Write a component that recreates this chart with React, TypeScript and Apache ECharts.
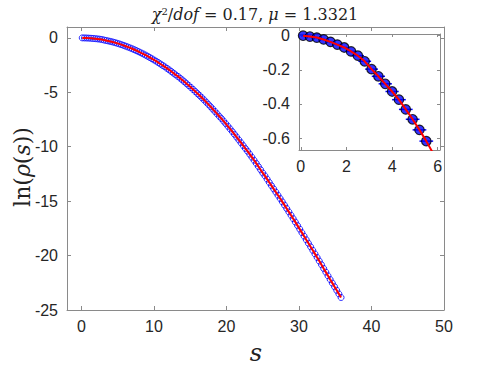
import React, { useEffect, useRef } from "react";
import * as echarts from "echarts";

// s values (distance) and ln(rho(s))
const S_VALUES = [
  0.1, 0.4, 0.7, 1.0, 1.3, 1.6, 1.9, 2.2, 2.5, 2.8,
  3.1, 3.4, 3.7, 4.0, 4.3, 4.6, 4.9, 5.2, 5.5, 5.8,
  6.1, 6.4, 6.7, 7.0, 7.3, 7.6, 7.9, 8.2, 8.5, 8.8,
  9.1, 9.4, 9.7, 10.0, 10.3, 10.6, 10.9, 11.2, 11.5, 11.8,
  12.1, 12.4, 12.7, 13.0, 13.3, 13.6, 13.9, 14.2, 14.5, 14.8,
  15.1, 15.4, 15.7, 16.0, 16.3, 16.6, 16.9, 17.2, 17.5, 17.8,
  18.1, 18.4, 18.7, 19.0, 19.3, 19.6, 19.9, 20.2, 20.5, 20.8,
  21.1, 21.4, 21.7, 22.0, 22.3, 22.6, 22.9, 23.2, 23.5, 23.8,
  24.1, 24.4, 24.7, 25.0, 25.3, 25.6, 25.9, 26.2, 26.5, 26.8,
  27.1, 27.4, 27.7, 28.0, 28.3, 28.6, 28.9, 29.2, 29.5, 29.8,
  30.1, 30.4, 30.7, 31.0, 31.3, 31.6, 31.9, 32.2, 32.5, 32.8,
  33.1, 33.4, 33.7, 34.0, 34.3, 34.6, 34.9, 35.2, 35.5, 35.8,
];
const LN_RHO = [
  0, -0.005, -0.011, -0.022, -0.036, -0.052, -0.069, -0.092, -0.117, -0.15,
  -0.196, -0.238, -0.282, -0.327, -0.375, -0.432, -0.49, -0.552, -0.618, -0.69,
  -0.763, -0.84, -0.92, -1.0, -1.087, -1.178, -1.273, -1.372, -1.467, -1.572,
  -1.681, -1.794, -1.91, -2.03, -2.143, -2.27, -2.4, -2.534, -2.658, -2.799,
  -2.943, -3.091, -3.242, -3.397, -3.538, -3.699, -3.864, -4.033, -4.205, -4.381,
  -4.56, -4.743, -4.93, -5.12, -5.3, -5.497, -5.698, -5.902, -6.11, -6.321,
  -6.536, -6.754, -6.976, -7.202, -7.413, -7.645, -7.881, -8.12, -8.363, -8.61,
  -8.86, -9.113, -9.371, -9.632, -9.896, -10.164, -10.41, -10.684, -10.962, -11.244,
  -11.529, -11.818, -12.11, -12.406, -12.674, -12.976, -13.282, -13.578, -13.869, -14.164,
  -14.461, -14.76, -15.062, -15.366, -15.673, -15.983, -16.295, -16.609, -16.926, -17.246,
  -17.568, -17.892, -18.218, -18.547, -18.869, -19.192, -19.518, -19.845, -20.174, -20.506,
  -20.839, -21.184, -21.521, -21.86, -22.2, -22.53, -22.86, -23.19, -23.52, -23.85,
];
// inset: first points with their (horizontal) error bars
const INSET_COUNT = 19;
const INSET_ERR = [
  0.04, 0.05, 0.06, 0.07, 0.08, 0.1, 0.14, 0.24, 0.27, 0.28,
  0.28, 0.29, 0.29, 0.29, 0.3, 0.3, 0.3, 0.3, 0.3,
];

const X_TICKS = [0, 10, 20, 30, 40, 50];
const Y_TICKS = [-25, -20, -15, -10, -5, 0];
const INSET_X_TICKS = [0, 2, 4, 6];
const INSET_Y_TICKS = [-0.6, -0.4, -0.2, 0];

const AXIS_GRAY = "#8a8a8a";
const LABEL_COLOR = "#262626";
const SANS = "'Liberation Sans', Arial, sans-serif";
const SERIF = "'DejaVu Serif', 'Liberation Serif', serif";

function axis(
  type: "x" | "y",
  gridIndex: number,
  position: string,
  min: number,
  max: number,
  ticks: number[],
  showLabels: boolean,
  tickLen: number
) {
  return {
    type: "value",
    gridIndex,
    position,
    min,
    max,
    axisLine: { show: true, onZero: false, lineStyle: { color: AXIS_GRAY, width: 1 } },
    axisTick: {
      show: true,
      inside: true,
      length: tickLen,
      customValues: ticks,
      lineStyle: { color: AXIS_GRAY, width: 1 },
    },
    axisLabel: {
      show: showLabels,
      customValues: ticks,
      color: LABEL_COLOR,
      fontSize: 16,
      fontFamily: SANS,
      margin: type === "x" ? 8 : 9,
      showMinLabel: true,
      showMaxLabel: true,
    },
    splitLine: { show: false },
  };
}

export default function App() {
  const ref = useRef<HTMLDivElement>(null);
  useEffect(() => {
    document.body.style.margin = "0";
    if (!ref.current) return;
    const chart = echarts.init(ref.current, null, { renderer: "svg" });
    const mainData = S_VALUES.map((s, i) => [s, LN_RHO[i]]);
    const insetPts = S_VALUES.slice(0, INSET_COUNT).map((s, i) => [s, LN_RHO[i]]);
    const insetLine = S_VALUES.slice(0, INSET_COUNT + 1).map((s, i) => [s, LN_RHO[i]]);
    const insetErr = insetPts.map((p, i) => [p[0], p[1], INSET_ERR[i]]);

    chart.setOption({
      animation: false,
      backgroundColor: "#fff",
      grid: [
        { left: 67, top: 27, width: 377, height: 283, containLabel: false },
        {
          left: 299, top: 34, width: 141, height: 116, containLabel: false,
          show: true, backgroundColor: "#fff", borderWidth: 0, z: 3,
        },
      ],
      xAxis: [
        axis("x", 0, "bottom", -2, 50, X_TICKS, true, 4),
        axis("x", 0, "top", -2, 50, X_TICKS, false, 4),
        { ...axis("x", 1, "bottom", -0.08, 6.1, INSET_X_TICKS, true, 3), z: 4 },
        { ...axis("x", 1, "top", -0.08, 6.1, INSET_X_TICKS, false, 3), z: 4 },
      ],
      yAxis: [
        axis("y", 0, "left", -25, 1, Y_TICKS, true, 4),
        axis("y", 0, "right", -25, 1, Y_TICKS, false, 4),
        { ...axis("y", 1, "left", -0.67, 0.01, INSET_Y_TICKS, true, 3), z: 4 },
        { ...axis("y", 1, "right", -0.67, 0.01, INSET_Y_TICKS, false, 3), z: 4 },
      ],
      series: [
        {
          type: "scatter",
          xAxisIndex: 0,
          yAxisIndex: 0,
          data: mainData,
          symbol: "circle",
          symbolSize: 6,
          itemStyle: { color: "rgba(0,0,0,0)", borderColor: "#0000ff", borderWidth: 1 },
          z: 2,
        },
        {
          type: "line",
          xAxisIndex: 0,
          yAxisIndex: 0,
          data: mainData,
          showSymbol: false,
          lineStyle: { color: "#ff0000", width: 2 },
          z: 3,
        },
        {
          type: "custom",
          xAxisIndex: 2,
          yAxisIndex: 2,
          data: insetErr,
          clip: true,
          z: 5,
          renderItem: (params: any, api: any) => {
            const s = api.value(0);
            const v = api.value(1);
            const e = api.value(2);
            const p1 = api.coord([s - e, v]);
            const p2 = api.coord([s + e, v]);
            return {
              type: "line",
              shape: { x1: p1[0], y1: p1[1], x2: p2[0], y2: p2[1] },
              style: { stroke: "#0000ff", lineWidth: 1.5 },
            };
          },
        },
        {
          type: "scatter",
          xAxisIndex: 2,
          yAxisIndex: 2,
          data: insetPts,
          symbol: "circle",
          symbolSize: 9.5,
          itemStyle: { color: "#0000ff", borderColor: "#000", borderWidth: 1.2 },
          z: 6,
        },
        {
          type: "line",
          xAxisIndex: 2,
          yAxisIndex: 2,
          data: insetLine,
          showSymbol: false,
          clip: true,
          lineStyle: { color: "#ff0000", width: 2 },
          z: 7,
        },
      ],
      graphic: [
        {
          type: "text",
          x: 255,
          y: 14,
          style: {
            text: "{i|χ}{sup|2}{r|/}{i|dof}{r| = 0.17, }{i|μ}{r| = 1.3321}",
            align: "center",
            verticalAlign: "middle",
            rich: {
              i: { fontFamily: SERIF, fontStyle: "italic", fontSize: 16, fill: "#222" },
              r: { fontFamily: SERIF, fontSize: 16, fill: "#222" },
              sup: { fontFamily: SERIF, fontSize: 10, fill: "#222", verticalAlign: "top" },
            },
          },
        },
        {
          type: "text",
          x: 22,
          y: 167,
          rotation: Math.PI / 2,
          style: {
            text: "{r|ln(}{i|ρ}{r|(}{i|s}{r|))}",
            align: "center",
            verticalAlign: "middle",
            rich: {
              i: { fontFamily: SERIF, fontStyle: "italic", fontSize: 22, fill: "#222" },
              r: { fontFamily: SERIF, fontSize: 22, fill: "#222" },
            },
          },
        },
        {
          type: "text",
          x: 256,
          y: 353,
          style: {
            text: "s",
            fontFamily: SERIF,
            fontStyle: "italic",
            fontSize: 24,
            fill: "#222",
            align: "center",
            verticalAlign: "middle",
          },
        },
      ],
    });
    return () => chart.dispose();
  }, []);
  return <div ref={ref} style={{ width: 491, height: 368 }} />;
}
